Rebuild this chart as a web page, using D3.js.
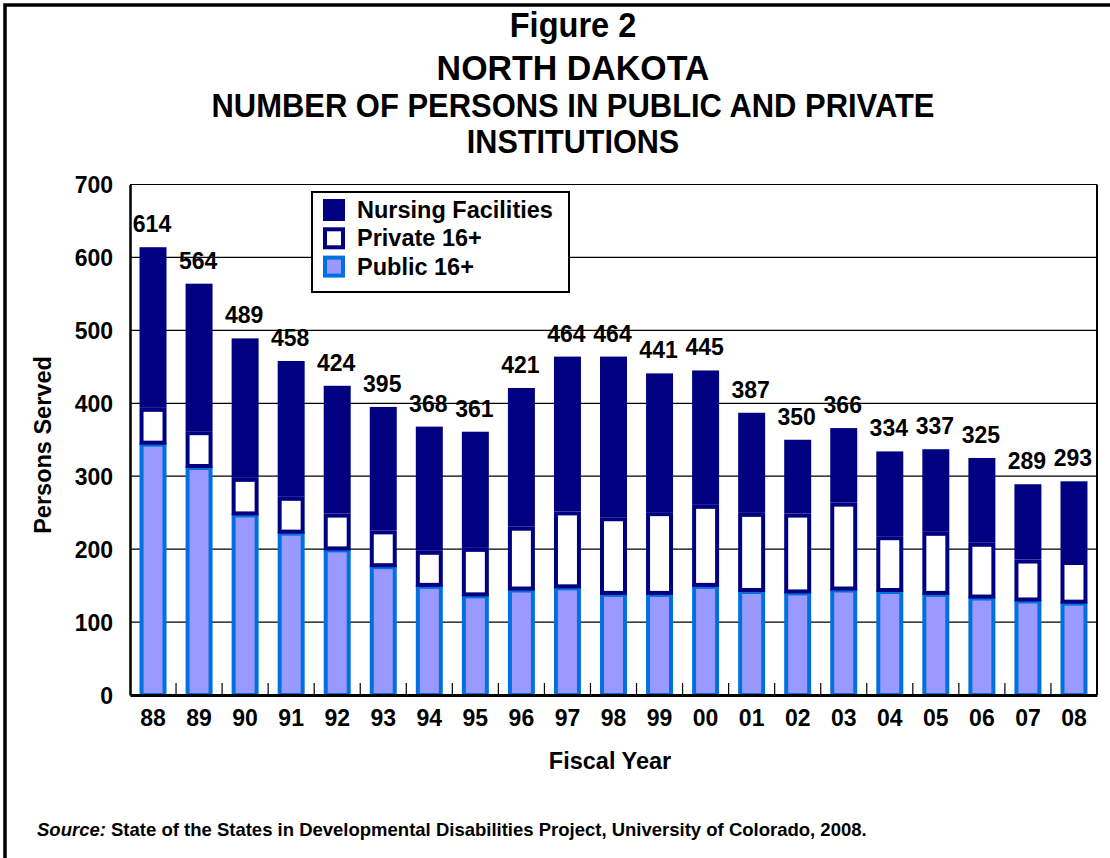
<!DOCTYPE html>
<html>
<head>
<meta charset="utf-8">
<script src="https://cdn.jsdelivr.net/npm/d3@7"></script>
<style>
  body { margin: 0; background: #fff; }
  svg text { font-family: "Liberation Sans", Arial, Helvetica, sans-serif; font-weight: bold; fill: #000; }
</style>
</head>
<body>
<svg id="chart" width="1110" height="858"></svg>
<script>
// values
const years = ["88","89","90","91","92","93","94","95","96","97","98","99","00","01","02","03","04","05","06","07","08"];
const totals = [614,564,489,458,424,395,368,361,421,464,464,441,445,387,350,366,334,337,325,289,293];
const publicVals = [346,314,249,224,201,178,151,138,146,149,140,140,151,144,142,146,144,140,135,131,128];
const privateVals = [45,45,46,45,45,45,44,61,82,100,101,108,107,103,104,115,71,81,71,52,53];
const nursingVals = [223,205,194,189,178,172,173,162,193,215,223,193,187,140,104,105,119,116,119,106,112];
const yTicks = [0,100,200,300,400,500,600,700];
const titleLines = ["Figure 2", "NORTH DAKOTA", "NUMBER OF PERSONS IN PUBLIC AND PRIVATE", "INSTITUTIONS"];
const legendItems = ["Nursing Facilities", "Private 16+", "Public 16+"];

const navy = "#000080", blue = "#0070e0", lilac = "#9999ff";

const svg = d3.select("#chart");
const plotL = 130, plotR = 1097, plotT = 184.5, plotB = 695;

// outer frame (right and bottom edges fall outside the picture)
svg.append("rect")
    .attr("x", 5).attr("y", 5)
    .attr("width", 1130).attr("height", 880)
    .attr("fill", "none").attr("stroke", "#000").attr("stroke-width", 3.5);

// titles
const titleY = [37, 80, 117, 153];
const titleSize = [35, 35, 34, 34];
const titleSquash = [0.93, 0.97, 0.91, 0.9];
titleLines.forEach((t, i) => {
    svg.append("text")
        .attr("transform", `translate(573,${titleY[i]}) scale(${titleSquash[i]},1)`)
        .attr("text-anchor", "middle")
        .style("font-size", titleSize[i] + "px")
        .text(t);
});

const x = d3.scaleBand().domain(years).range([plotL, plotR]).paddingInner(0.414).paddingOuter(0.207);
const y = d3.scaleLinear().domain([0, 700]).range([plotB, plotT]);

// gridlines
svg.append("g").selectAll("line").data(yTicks.slice(1)).join("line")
    .attr("x1", plotL).attr("x2", plotR)
    .attr("y1", d => y(d)).attr("y2", d => y(d))
    .attr("stroke", "#000").attr("stroke-width", 1.2);

// bars
const sw = 4;
const bw = x.bandwidth();
const g = svg.append("g");
years.forEach((yr, i) => {
    const x0 = x(yr);
    const p = publicVals[i], q = privateVals[i], n = nursingVals[i];
    g.append("rect")
        .attr("x", x0 + sw / 2).attr("width", bw - sw)
        .attr("y", y(p) + sw / 2).attr("height", y(0) - y(p) - sw / 2)
        .attr("fill", lilac).attr("stroke", blue).attr("stroke-width", sw);
    g.append("rect")
        .attr("x", x0 + sw / 2).attr("width", bw - sw)
        .attr("y", y(p + q)).attr("height", y(p) - y(p + q))
        .attr("fill", "#fff").attr("stroke", navy).attr("stroke-width", sw);
    g.append("rect")
        .attr("x", x0).attr("width", bw)
        .attr("y", y(p + q + n)).attr("height", y(p + q) - y(p + q + n) - sw / 2)
        .attr("fill", navy);
});

// total labels
svg.append("g").selectAll("text").data(years).join("text")
    .attr("x", d => x(d) + bw / 2 - 1)
    .attr("y", (d, i) => y(totals[i]) - 15)
    .attr("text-anchor", "middle")
    .style("font-size", "23px")
    .text((d, i) => totals[i]);

// plot frame: right side
svg.append("line").attr("x1", plotR).attr("x2", plotR).attr("y1", plotT).attr("y2", plotB)
    .attr("stroke", "#000").attr("stroke-width", 2);

// y axis
const yAxis = svg.append("g").attr("transform", `translate(${plotL},0)`)
    .call(d3.axisLeft(y).tickValues(yTicks).tickSize(0).tickPadding(17));
yAxis.select(".domain").attr("stroke", "#000").attr("stroke-width", 2.5);
yAxis.selectAll("text").style("font-size", "23px").attr("dy", "0.36em");

// x axis with ticks between categories pointing up
const xAxis = svg.append("g").attr("transform", `translate(0,${plotB})`)
    .call(d3.axisBottom(x).tickSize(0).tickPadding(15));
xAxis.select(".domain").attr("stroke", "#000").attr("stroke-width", 3);
xAxis.selectAll("text").style("font-size", "23px").attr("dy", "0.71em");
const step = x.step();
xAxis.append("g").selectAll("line").data(d3.range(1, years.length)).join("line")
    .attr("x1", d => plotL + d * step).attr("x2", d => plotL + d * step)
    .attr("y1", 0).attr("y2", -12)
    .attr("stroke", "#000").attr("stroke-width", 1.2);

// axis titles
svg.append("text")
    .attr("transform", "translate(51,445) rotate(-90)")
    .attr("text-anchor", "middle")
    .style("font-size", "23.5px")
    .text("Persons Served");
svg.append("text")
    .attr("x", 610).attr("y", 769)
    .attr("text-anchor", "middle")
    .style("font-size", "23.5px")
    .text("Fiscal Year");

// legend
const lg = svg.append("g");
lg.append("rect").attr("x", 312).attr("y", 192).attr("width", 257).attr("height", 100)
    .attr("fill", "#fff").attr("stroke", "#000").attr("stroke-width", 2);
const swFill = [navy, "#fff", lilac], swStroke = [navy, navy, blue];
legendItems.forEach((name, i) => {
    const yy = 199 + i * 28.3;
    lg.append("rect").attr("x", 325).attr("y", yy + 2).attr("width", 18).attr("height", 18)
        .attr("fill", swFill[i]).attr("stroke", swStroke[i]).attr("stroke-width", 4);
    lg.append("text").attr("x", 357).attr("y", yy + 19)
        .style("font-size", "23.5px")
        .text(name);
});

// source note
const src = svg.append("text").attr("x", 37).attr("y", 836).style("font-size", "18.5px");
src.append("tspan").style("font-style", "italic").text("Source:");
src.append("tspan").text(" State of the States in Developmental Disabilities Project, University of Colorado, 2008.");
</script>
</body>
</html>
